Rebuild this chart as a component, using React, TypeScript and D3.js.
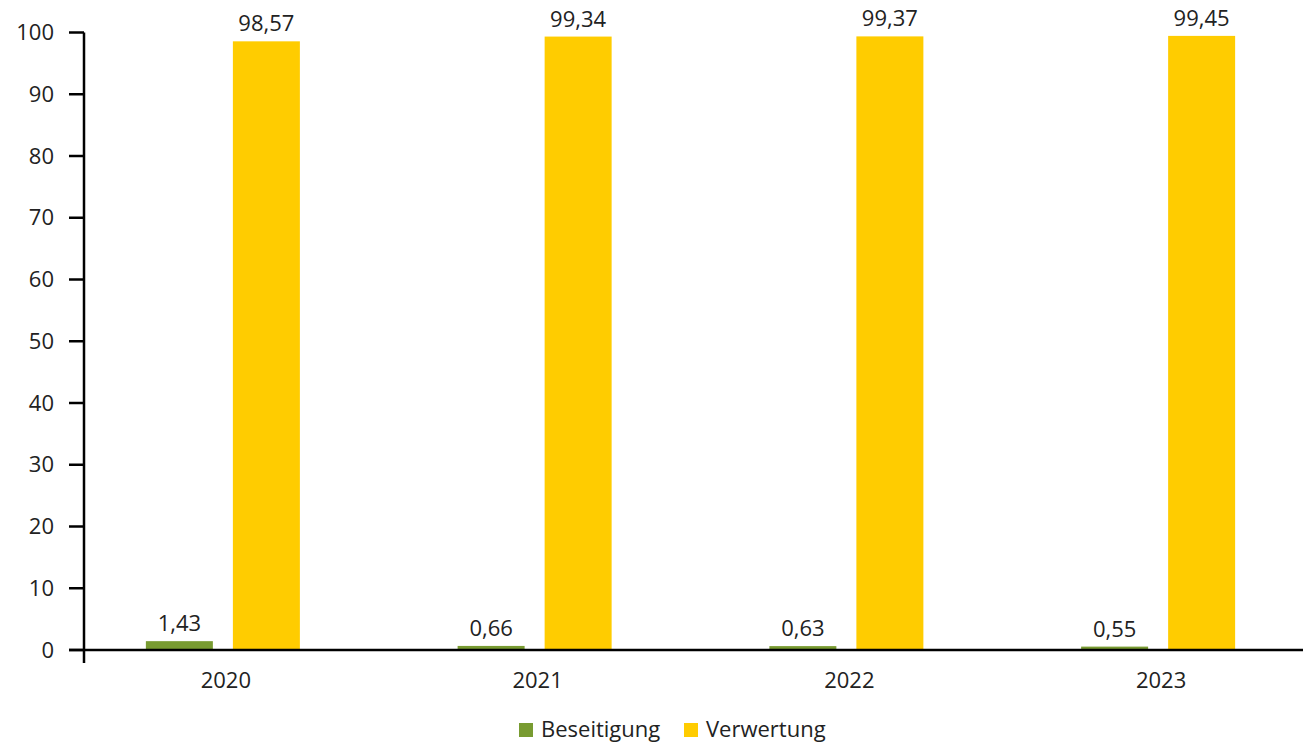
import React from "react";
import { scaleBand, scaleLinear, format } from "d3";

const years = ["2020", "2021", "2022", "2023"];
const beseitigung = [1.43, 0.66, 0.63, 0.55];
const verwertung = [98.57, 99.34, 99.37, 99.45];
const yTicks = [0, 10, 20, 30, 40, 50, 60, 70, 80, 90, 100];
const seriesNames = ["Beseitigung", "Verwertung"];
const seriesColors = ["#789b31", "#ffcc00"];

const W = 1303;
const H = 744;
const FONT = "'Open Sans', 'Noto Sans', sans-serif";
const TEXT = "#222";
const FS = 22;

const fmt = (v: number) => format(".2f")(v).replace(".", ",");

export default function App() {
  const axisX = 84;
  const y = scaleLinear().domain([0, 100]).range([650, 32.5]);
  const x0 = scaleBand<string>().domain(years).range([67, 1314]).paddingInner(0.506).paddingOuter(0.253);
  const x1 = scaleBand<string>().domain(seriesNames).range([0, x0.bandwidth()]).paddingInner(0.23);
  const series = [beseitigung, verwertung];

  return (
    <svg width={W} height={H} style={{ position: "absolute", left: 0, top: 0, fontFamily: FONT }}>
      {/* y axis */}
      <line x1={axisX} x2={axisX} y1={y(100)} y2={663} stroke="#000" strokeWidth={2.5} />
      {yTicks.map((t) => (
        <g key={t}>
          <line x1={69} x2={axisX} y1={y(t)} y2={y(t)} stroke="#000" strokeWidth={2.5} />
          <text x={54} y={y(t)} dy="0.35em" textAnchor="end" fontSize={FS} fill={TEXT}>
            {t}
          </text>
        </g>
      ))}

      {/* bars */}
      {years.map((yr, i) => (
        <g key={yr} transform={`translate(${x0(yr)},0)`}>
          {seriesNames.map((s, j) => {
            const v = series[j][i];
            const bx = x1(s)!;
            return (
              <g key={s}>
                <rect x={bx} y={y(v)} width={x1.bandwidth()} height={y(0) - y(v)} fill={seriesColors[j]} />
                <text
                  x={bx + x1.bandwidth() / 2}
                  y={y(v) - 10}
                  textAnchor="middle"
                  fontSize={FS}
                  fill={TEXT}
                >
                  {fmt(v)}
                </text>
              </g>
            );
          })}
          <text x={x0.bandwidth() / 2 + 3} y={688} textAnchor="middle" fontSize={FS} fill={TEXT}>
            {yr}
          </text>
        </g>
      ))}

      {/* x axis */}
      <line x1={69} x2={W} y1={y(0)} y2={y(0)} stroke="#000" strokeWidth={2.5} />

      {/* legend */}
      <g>
        <rect x={519} y={723} width={14} height={14} fill={seriesColors[0]} />
        <text x={541} y={737} fontSize={FS} fill={TEXT}>
          {seriesNames[0]}
        </text>
        <rect x={684} y={723} width={14} height={14} fill={seriesColors[1]} />
        <text x={706} y={737} fontSize={FS} fill={TEXT}>
          {seriesNames[1]}
        </text>
      </g>
    </svg>
  );
}
